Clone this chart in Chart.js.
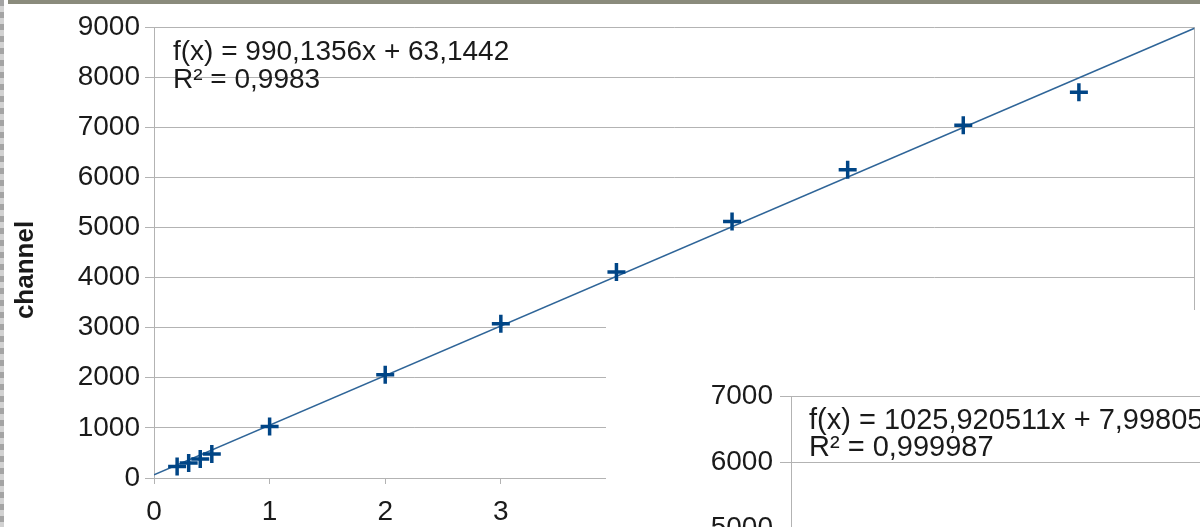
<!DOCTYPE html>
<html>
<head>
<meta charset="utf-8">
<script src="https://cdn.jsdelivr.net/npm/chart.js@4/dist/chart.umd.min.js"></script>
<style>
  html,body{margin:0;padding:0;background:#fff;overflow:hidden;width:1200px;height:527px;}
  #wrap{position:relative;width:1200px;height:527px;overflow:hidden;}
  #main{position:absolute;left:0;top:0;}
  #inset{position:absolute;left:606px;top:310px;background:#fff;}
  #topbar{position:absolute;left:8px;top:0;width:1192px;height:4px;background:#8a8b7c;}
  #leftbar{position:absolute;left:0;top:0;width:4px;height:527px;
    background:repeating-linear-gradient(to bottom,#a4a4a4 0px,#a4a4a4 6px,#d2d2d2 6px,#d2d2d2 12px);}
</style>
</head>
<body>
<div id="wrap">
  <canvas id="main" width="1207" height="527"></canvas>
  <canvas id="inset" width="650" height="308"></canvas>
  <div id="topbar"></div>
  <div id="leftbar"></div>
</div>
<script>
// ---- data ----
const energies = [0.2, 0.3, 0.4, 0.5, 1, 2, 3, 4, 5, 6, 7, 8];
const channels = [230, 300, 380, 480, 1030, 2060, 3080, 4110, 5120, 6150, 7040, 7700];
const trendSlope = 990.1356;
const trendIntercept = 63.1442;
const trendRange = [0, 9];
const mainEquation = "f(x) = 990,1356x + 63,1442";
const mainR2 = "R² = 0,9983";
const yAxisTitle = "channel";
const yTicksMain = [0, 9000, 1000];   // min, max, step
const xTicksMain = [0, 9, 1];
const xVisibleLabelsMax = 3;

const insetEquation = "f(x) = 1025,920511x + 7,998056";
const insetR2 = "R² = 0,999987";
const yTicksInset = [4000, 7000, 1000];

const GRID = '#b3b3b3';
const TXT = '#1a1a1a';
const FONT = "'Liberation Sans', Arial, sans-serif";
const FS = 28;

const points = energies.map((e, i) => ({x: e, y: channels[i]}));
const trend = trendRange.map(x => ({x: x, y: trendSlope * x + trendIntercept}));

function textPlugin(lines, fs, title) {
  return {
    id: 'eqText',
    afterDraw(chart) {
      const ctx = chart.ctx;
      ctx.save();
      ctx.fillStyle = TXT;
      ctx.font = fs + "px " + FONT;
      ctx.textBaseline = 'middle';
      ctx.textAlign = 'left';
      lines.forEach(l => ctx.fillText(l.t, l.x, l.y));
      if (title) {
        ctx.translate(title.x, title.y);
        ctx.rotate(-Math.PI / 2);
        ctx.textAlign = 'center';
        ctx.font = "bold 26px " + FONT;
        ctx.fillText(title.t, 0, 0);
      }
      ctx.restore();
    }
  };
}

new Chart(document.getElementById('main'), {
  type: 'scatter',
  data: {
    datasets: [
      {
        label: 'channel',
        data: points,
        pointStyle: 'cross',
        pointRadius: 9,
        pointHoverRadius: 9,
        borderWidth: 3.5,
        borderColor: '#004586',
        backgroundColor: '#004586',
        order: 0
      },
      {
        type: 'line',
        label: 'trend',
        data: trend,
        borderColor: '#2f6598',
        borderWidth: 1.5,
        pointRadius: 0,
        fill: false,
        order: 1
      }
    ]
  },
  options: {
    responsive: false,
    animation: false,
    events: [],
    layout: {padding: {top: 27, right: 0, left: 0, bottom: 0}},
    plugins: {legend: {display: false}, tooltip: {enabled: false}},
    scales: {
      x: {
        type: 'linear',
        min: xTicksMain[0], max: xTicksMain[1],
        ticks: {
          stepSize: xTicksMain[2], color: TXT, font: {family: FONT, size: FS}, padding: 11,
          maxRotation: 0,
          callback: v => v <= xVisibleLabelsMax ? String(v) : ''
        },
        grid: {
          drawOnChartArea: true,
          color: c => (c.tick && c.tick.value === xTicksMain[1]) ? GRID : 'rgba(0,0,0,0)',
          tickColor: c => (c.tick && c.tick.value <= xVisibleLabelsMax) ? GRID : 'rgba(0,0,0,0)',
          tickLength: 6
        },
        border: {display: true, color: GRID},
        afterFit: s => { s.height = 49; s.paddingRight = 0; }
      },
      y: {
        min: yTicksMain[0], max: yTicksMain[1],
        ticks: {stepSize: yTicksMain[2], color: TXT, font: {family: FONT, size: FS}, padding: 5,
          callback: v => String(v)},
        grid: {color: GRID, tickColor: GRID, tickLength: 9},
        border: {display: true, color: GRID},
        afterFit: s => { s.width = 154; }
      }
    }
  },
  plugins: [textPlugin([{t: mainEquation, x: 173, y: 52}, {t: mainR2, x: 173, y: 80}], FS,
                       {t: yAxisTitle, x: 26, y: 270})]
});

new Chart(document.getElementById('inset'), {
  type: 'scatter',
  data: {datasets: [{label: 'inset', data: [], pointRadius: 0}]},
  options: {
    responsive: false,
    animation: false,
    events: [],
    layout: {padding: {top: 86, right: 0, left: 0, bottom: 0}},
    plugins: {legend: {display: false}, tooltip: {enabled: false}},
    scales: {
      x: {display: false, min: 0, max: 10},
      y: {
        min: yTicksInset[0], max: yTicksInset[1],
        ticks: {stepSize: yTicksInset[2], color: TXT, font: {family: FONT, size: FS}, padding: 7,
          callback: v => String(v)},
        grid: {color: GRID, tickColor: GRID, tickLength: 11},
        border: {display: true, color: GRID},
        afterFit: s => { s.width = 185; }
      }
    }
  },
  plugins: [textPlugin([{t: insetEquation, x: 203, y: 111}, {t: insetR2, x: 203, y: 138}], 29)]
});
</script>
</body>
</html>
